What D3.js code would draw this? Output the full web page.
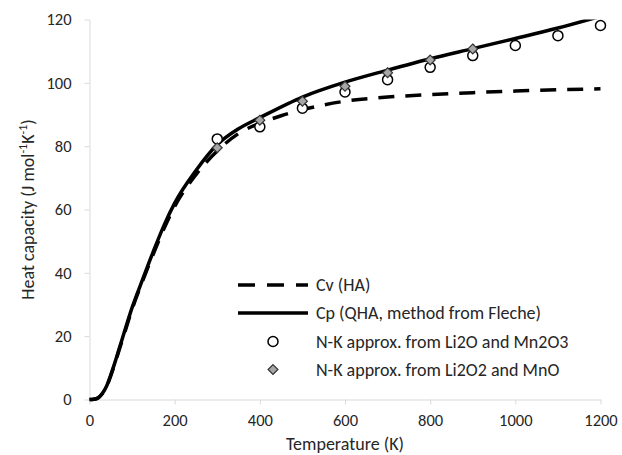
<!DOCTYPE html>
<html>
<head>
<meta charset="utf-8">
<script src="https://cdn.jsdelivr.net/npm/d3@7"></script>
<style>
  body { margin: 0; background: #fff; }
  svg text { font-family: Carlito, Calibri, Lato, sans-serif; fill: #262626; }
</style>
</head>
<body>
<div id="chart"></div>
<script>
'use strict';

// Cv, harmonic approximation
var tempCv = [0, 10, 20, 30, 40, 50, 60, 70, 80, 100, 125, 150, 175, 200, 250, 300, 350, 400, 450, 500, 600, 700, 800, 900, 1000, 1100, 1200];
var cv = [0, 0.1, 0.5, 1.8, 4.0, 7.5, 11.5, 15.8, 20.0, 28.5, 37.5, 46.0, 54.0, 61.0, 71.0, 78.5, 84.0, 87.2, 89.6, 91.5, 94.2, 95.5, 96.3, 96.9, 97.4, 97.8, 98.1];

// Cp, quasi-harmonic approximation
var tempCp = [0, 10, 20, 30, 40, 50, 60, 70, 80, 100, 125, 150, 175, 200, 250, 300, 350, 400, 500, 600, 700, 800, 900, 1000, 1100, 1200];
var cp = [0, 0.1, 0.5, 1.9, 4.2, 7.8, 11.8, 16.2, 20.5, 29.0, 38.0, 46.8, 55.0, 62.0, 72.3, 80.5, 85.5, 89.0, 95.5, 100.2, 104.0, 107.6, 110.8, 114.0, 117.3, 121.0];

// Neumann-Kopp approximations
var tempNK1 = [300, 400, 500, 600, 700, 800, 900, 1000, 1100, 1200];
var nkLi2OMn2O3 = [82.3, 86.1, 92.0, 97.1, 101.0, 104.9, 108.6, 111.8, 114.9, 118.1];
var tempNK2 = [300, 400, 500, 600, 700, 800, 900];
var nkLi2O2MnO = [79.5, 88.2, 94.2, 98.9, 103.2, 107.2, 110.7];

var xTicks = [0, 200, 400, 600, 800, 1000, 1200];
var yTicks = [0, 20, 40, 60, 80, 100, 120];

var legendLabels = ['Cv (HA)', 'Cp (QHA, method from Fleche)', 'N-K approx. from Li2O and Mn2O3', 'N-K approx. from Li2O2 and MnO'];

var width = 622, height = 455;
var plot = { left: 89.5, right: 600.5, top: 19.5, bottom: 399.5 };

var svg = d3.select('#chart').append('svg')
  .attr('width', width)
  .attr('height', height);

var x = d3.scaleLinear().domain([0, 1200]).range([plot.left, plot.right]);
var y = d3.scaleLinear().domain([0, 120]).range([plot.bottom, plot.top]);

svg.append('clipPath').attr('id', 'clip')
  .append('rect')
  .attr('x', plot.left - 2)
  .attr('y', plot.top)
  .attr('width', plot.right - plot.left + 4)
  .attr('height', plot.bottom - plot.top + 3);

// axes
var xAxis = svg.append('g')
  .attr('transform', 'translate(0,' + plot.bottom + ')')
  .call(d3.axisBottom(x).tickValues(xTicks).tickFormat(d3.format('d'))
    .tickSize(5).tickSizeOuter(0).tickPadding(10));

var yAxis = svg.append('g')
  .attr('transform', 'translate(' + plot.left + ',0)')
  .call(d3.axisLeft(y).tickValues(yTicks).tickFormat(d3.format('d'))
    .tickSize(5).tickSizeOuter(0).tickPadding(13));

[xAxis, yAxis].forEach(function(ax) {
  ax.select('.domain').attr('stroke', '#d9d9d9');
  ax.selectAll('.tick line').attr('stroke', '#d9d9d9');
  ax.selectAll('.tick text')
    .attr('font-size', 16.5)
    .attr('font-family', null)
    .attr('fill', '#262626');
});

// axis titles
svg.append('text')
  .attr('x', (plot.left + plot.right) / 2)
  .attr('y', 450)
  .attr('text-anchor', 'middle')
  .attr('font-size', 18)
  .text('Temperature (K)');

var yTitle = svg.append('text')
  .attr('transform', 'translate(34,' + ((plot.top + plot.bottom) / 2) + ') rotate(-90)')
  .attr('text-anchor', 'middle')
  .attr('font-size', 18);
yTitle.append('tspan').text('Heat capacity (J mol');
yTitle.append('tspan').attr('font-size', 12).attr('dy', -7).text('-1');
yTitle.append('tspan').attr('dy', 7).text('K');
yTitle.append('tspan').attr('font-size', 12).attr('dy', -7).text('-1');
yTitle.append('tspan').attr('dy', 7).text(')');

// lines
var lineGen = d3.line().curve(d3.curveMonotoneX);
var g = svg.append('g').attr('clip-path', 'url(#clip)');

g.append('path')
  .attr('d', lineGen(tempCv.map(function(t, i) { return [x(t), y(cv[i])]; })))
  .attr('fill', 'none')
  .attr('stroke', '#000')
  .attr('stroke-width', 3.5)
  .attr('stroke-dasharray', '16,11');

g.append('path')
  .attr('d', lineGen(tempCp.map(function(t, i) { return [x(t), y(cp[i])]; })))
  .attr('fill', 'none')
  .attr('stroke', '#000')
  .attr('stroke-width', 3.5);

// markers
var circleData = tempNK1.map(function(t, i) { return { t: t, v: nkLi2OMn2O3[i] }; });
var diamondData = tempNK2.map(function(t, i) { return { t: t, v: nkLi2O2MnO[i] }; });

svg.append('g').selectAll('circle')
  .data(circleData)
  .enter().append('circle')
  .attr('cx', function(d) { return x(d.t); })
  .attr('cy', function(d) { return y(d.v); })
  .attr('r', 5)
  .attr('fill', '#fff')
  .attr('stroke', '#000')
  .attr('stroke-width', 1.5);

var diamond = d3.symbol().type(d3.symbolDiamond2).size(62);

svg.append('g').selectAll('path')
  .data(diamondData)
  .enter().append('path')
  .attr('d', diamond)
  .attr('transform', function(d) { return 'translate(' + x(d.t) + ',' + y(d.v) + ')'; })
  .attr('fill', '#a6a6a6')
  .attr('stroke', '#333')
  .attr('stroke-width', 1.2);

// legend
var legendY = [285, 313, 341.5, 369.5];
var legend = svg.append('g');

legend.append('line')
  .attr('x1', 238).attr('x2', 308)
  .attr('y1', legendY[0]).attr('y2', legendY[0])
  .attr('stroke', '#000').attr('stroke-width', 3.5)
  .attr('stroke-dasharray', '17,12');

legend.append('line')
  .attr('x1', 238).attr('x2', 308)
  .attr('y1', legendY[1]).attr('y2', legendY[1])
  .attr('stroke', '#000').attr('stroke-width', 3.5);

legend.append('circle')
  .attr('cx', 273).attr('cy', legendY[2]).attr('r', 5)
  .attr('fill', '#fff').attr('stroke', '#000').attr('stroke-width', 1.5);

legend.append('path')
  .attr('d', diamond)
  .attr('transform', 'translate(273,' + legendY[3] + ')')
  .attr('fill', '#a6a6a6').attr('stroke', '#333').attr('stroke-width', 1.2);

legend.selectAll('text')
  .data(legendLabels)
  .enter().append('text')
  .attr('x', 316)
  .attr('y', function(d, i) { return legendY[i]; })
  .attr('dy', '0.35em')
  .attr('font-size', 18)
  .text(function(d) { return d; });
</script>
</body>
</html>
